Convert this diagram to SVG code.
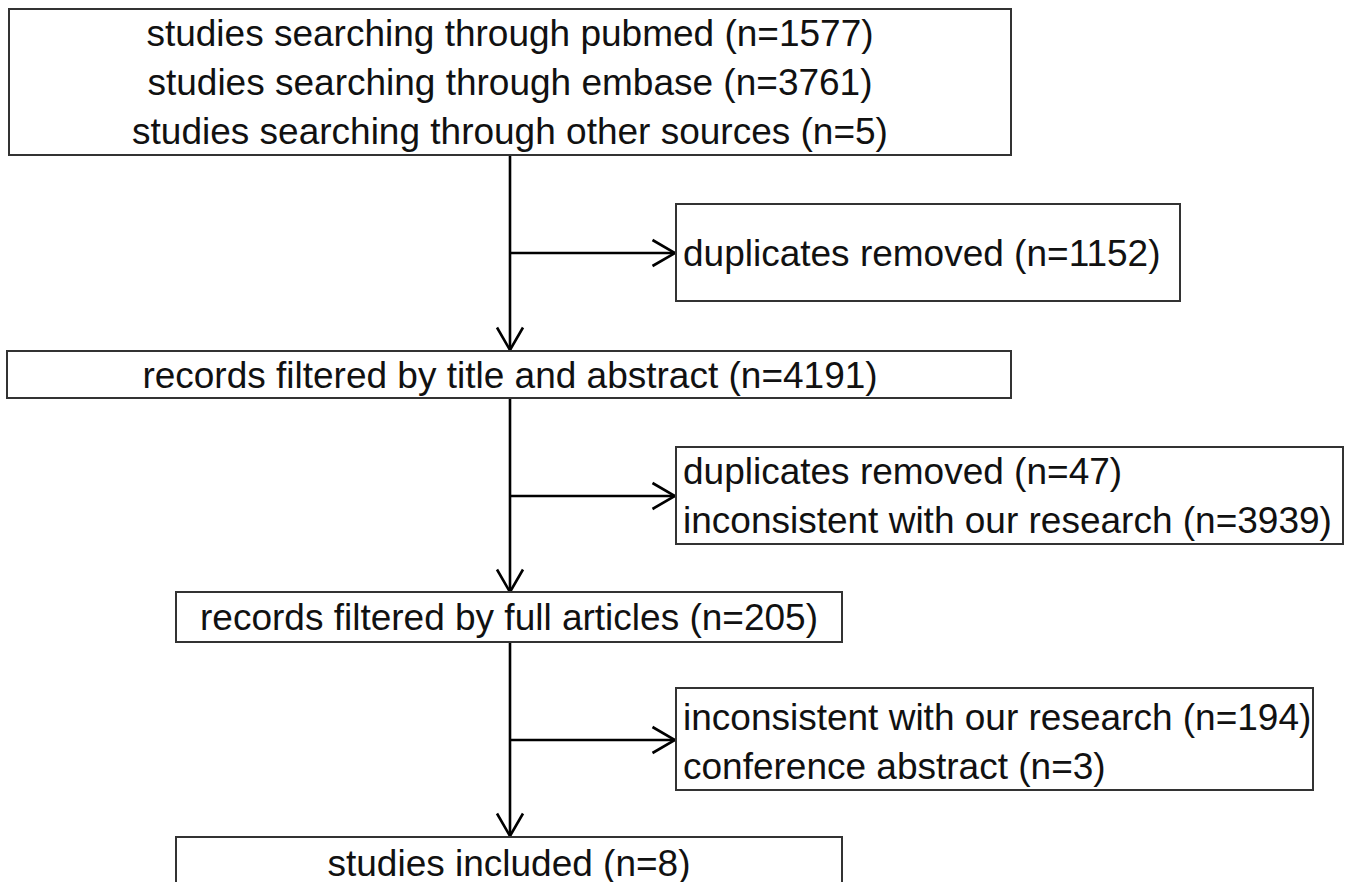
<svg xmlns="http://www.w3.org/2000/svg" width="1348" height="882" viewBox="0 0 1348 882">
<style>
.box{fill:#fff;stroke:#333;stroke-width:2}
.t{font-family:"Liberation Sans",Arial,sans-serif;font-size:37px;fill:#111}
.c{text-anchor:middle}
.ln{fill:none;stroke:#000;stroke-width:2.6}
</style>
<defs>
<marker id="ah" viewBox="0 0 26 30" refX="24" refY="15" markerWidth="26" markerHeight="30" markerUnits="userSpaceOnUse" orient="auto">
<path d="M1.5,2 L24,15 L1.5,28" fill="none" stroke="#000" stroke-width="2.6"/>
</marker>
</defs>
<rect width="1348" height="882" fill="#fff"/>
<g id="connectors">
<line class="ln" x1="510" y1="155" x2="510" y2="350" marker-end="url(#ah)"/>
<line class="ln" x1="510" y1="253" x2="675" y2="253" marker-end="url(#ah)"/>
<line class="ln" x1="510" y1="398" x2="510" y2="592" marker-end="url(#ah)"/>
<line class="ln" x1="510" y1="496" x2="675" y2="496" marker-end="url(#ah)"/>
<line class="ln" x1="510" y1="642" x2="510" y2="836" marker-end="url(#ah)"/>
<line class="ln" x1="510" y1="740" x2="675" y2="740" marker-end="url(#ah)"/>
</g>
<g id="n-search">
<rect class="box" x="9" y="9" width="1002" height="146"/>
<text class="t c" x="510" y="46">studies searching through pubmed (n=1577)</text>
<text class="t c" x="510" y="95">studies searching through embase (n=3761)</text>
<text class="t c" x="510" y="144">studies searching through other sources (n=5)</text>
</g>
<g id="n-dup1">
<rect class="box" x="676" y="204" width="504" height="97"/>
<text class="t" x="683" y="266">duplicates removed (n=1152)</text>
</g>
<g id="n-title">
<rect class="box" x="7" y="351" width="1004" height="47"/>
<text class="t c" x="510" y="388">records filtered by title and abstract (n=4191)</text>
</g>
<g id="n-excl1">
<rect class="box" x="676" y="447" width="667" height="97"/>
<text class="t" x="683" y="484">duplicates removed (n=47)</text>
<text class="t" x="683" y="533">inconsistent with our research (n=3939)</text>
</g>
<g id="n-full">
<rect class="box" x="176" y="592" width="666" height="50"/>
<text class="t c" x="509" y="630">records filtered by full articles (n=205)</text>
</g>
<g id="n-excl2">
<rect class="box" x="676" y="688" width="637" height="102"/>
<text class="t" x="683" y="730">inconsistent with our research (n=194)</text>
<text class="t" x="683" y="779">conference abstract (n=3)</text>
</g>
<g id="n-included">
<rect class="box" x="176" y="837" width="666" height="60"/>
<text class="t c" x="509" y="876">studies included (n=8)</text>
</g>
</svg>
